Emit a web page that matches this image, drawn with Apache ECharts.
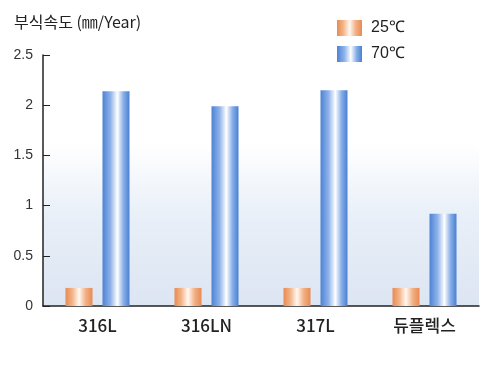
<!DOCTYPE html>
<html><head><meta charset="utf-8">
<script src="https://cdn.jsdelivr.net/npm/echarts@6/dist/echarts.min.js"></script>
<style>html,body{margin:0;padding:0;background:#fff}#c{width:485px;height:372px}</style>
</head><body><div id="c"></div>
<script>
const categories = ['316L', '316LN', '317L', '듀플렉스'];
const seriesNames = ['25℃', '70℃'];
const values25 = [0.18, 0.18, 0.18, 0.18];
const values70 = [2.14, 1.99, 2.15, 0.92];
const yTicks = { min: 0, max: 2.5, interval: 0.5 };

const font = '"Liberation Sans", Arial, sans-serif';
const G = echarts.graphic.LinearGradient;
const orange = new G(0, 0, 1, 0, [
  {offset: 0, color: '#e98a52'}, {offset: 0.25, color: '#f2b487'},
  {offset: 0.5, color: '#fff8f2'}, {offset: 0.75, color: '#f2b084'}, {offset: 1, color: '#e98a52'}]);
const blue = new G(0, 0, 1, 0, [
  {offset: 0, color: '#4d82d4'}, {offset: 0.3, color: '#8fb3ea'},
  {offset: 0.55, color: '#ffffff'}, {offset: 0.78, color: '#86aee8'}, {offset: 1, color: '#4a80d2'}]);

const chart = echarts.init(document.getElementById('c'), null, {renderer: 'canvas'});
chart.setOption({
  animation: false,
  backgroundColor: '#fff',
  title: {
    text: '부식속도 (㎜/Year)', left: 9, top: 9,
    textStyle: {fontSize: 16, fontWeight: 'normal', color: '#222', fontFamily: '"Noto Sans CJK KR", sans-serif'}
  },
  legend: {
    orient: 'vertical', left: 332, top: 15, itemWidth: 25, itemHeight: 16, itemGap: 10,
    icon: 'rect',
    textStyle: {fontSize: 16, color: '#222', fontFamily: font, padding: [0,0,0,4]},
    data: seriesNames
  },
  grid: {
    left: 43, right: 6, top: 55, bottom: 66, show: true, borderWidth: 0,
    backgroundColor: new G(0, 0, 0, 1, [
      {offset: 0, color: '#ffffff'}, {offset: 0.35, color: '#ffffff'},
      {offset: 0.65, color: '#e8eff8'}, {offset: 1, color: '#dce5f2'}])
  },
  xAxis: {
    type: 'category', data: categories,
    axisLine: {lineStyle: {color: '#222', width: 1.5}},
    axisTick: {show: false},
    axisLabel: {fontSize: 17, color: '#222', margin: 11, fontFamily: '"Noto Sans CJK KR", sans-serif', fontWeight: 500}
  },
  yAxis: {
    type: 'value', min: yTicks.min, max: yTicks.max, interval: yTicks.interval,
    axisLine: {show: true, lineStyle: {color: '#222', width: 1.5}},
    axisTick: {show: true, inside: true, length: 7, lineStyle: {color: '#222'}},
    splitLine: {show: false},
    axisLabel: {fontSize: 14, color: '#333', margin: 10, fontFamily: font}
  },
  series: [
    {name: seriesNames[0], type: 'bar', data: values25, barWidth: 27, barGap: '37%',
     itemStyle: {color: orange}},
    {name: seriesNames[1], type: 'bar', data: values70, barWidth: 27,
     itemStyle: {color: blue}}
  ]
});
</script></body></html>
